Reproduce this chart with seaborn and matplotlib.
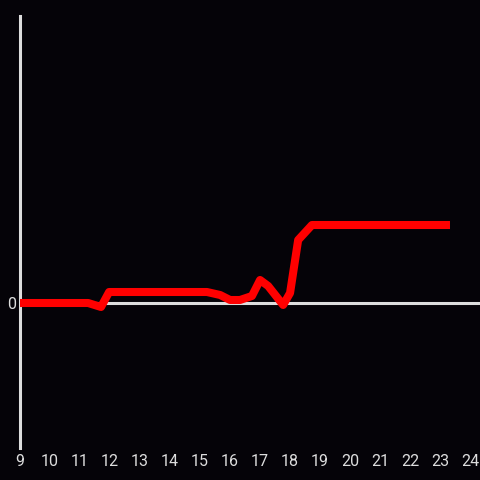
import matplotlib
matplotlib.use("Agg")
import matplotlib.pyplot as plt
import seaborn as sns
import pandas as pd

# ============================================================
# DATA
# ============================================================

hours = [9.0, 11.27, 11.7, 11.97, 15.23, 15.67, 16.0, 16.33, 16.73,
         17.0, 17.27, 17.77, 18.0, 18.27, 18.73, 23.33]
values = [0, 0, -4, 11, 11, 8, 3, 3, 7, 23, 17, -2, 10, 63, 78, 78]
x_ticks = list(range(9, 25))

df = pd.DataFrame({"hour": hours, "value": values})

# ============================================================
# STYLE
# ============================================================

bg = "#050308"
sns.set_style("dark")
plt.rcParams["font.family"] = ["Roboto", "DejaVu Sans"]

fig = plt.figure(figsize=(4.8, 4.8), dpi=100, facecolor=bg)
ax = fig.add_axes([20 / 480, 32 / 480, 460 / 480, 432 / 480])
ax.set_facecolor(bg)

# ============================================================
# PLOT
# ============================================================

ax.axhline(0, color="#dddddd", linewidth=2.2, zorder=1)

sns.lineplot(
    data=df,
    x="hour",
    y="value",
    color="#ff0000",
    linewidth=5.8,
    ax=ax,
    zorder=3
)
ax.lines[-1].set_solid_capstyle("butt")

ax.set_xlim(9, 24.33)
ax.set_ylim(-145, 287)
ax.set_xticks(x_ticks)
ax.set_yticks([0])
ax.set_xlabel("")
ax.set_ylabel("")
ax.grid(False)

ax.tick_params(axis="both", length=0, colors="#dddddd", labelsize=11.5)
ax.tick_params(axis="x", pad=4)
ax.tick_params(axis="y", pad=3)

for side in ["top", "right", "bottom"]:
    ax.spines[side].set_visible(False)
ax.spines["left"].set_color("#dddddd")
ax.spines["left"].set_linewidth(2.2)

fig.savefig("out.png", dpi=100, facecolor=bg)
plt.close()
